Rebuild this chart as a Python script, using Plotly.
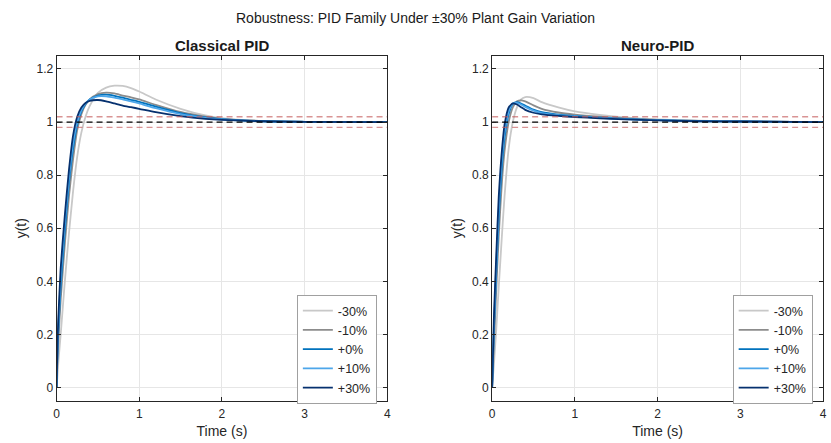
import plotly.graph_objects as go

# ---------------- data ----------------
labels = ["-30%", "-10%", "+0%", "+10%", "+30%"]
colors = ["#c8c8c8", "#8c8c8c", "#0072bd", "#4da6ea", "#06316f"]

t_classic = [0, 0.01, 0.02, 0.05, 0.1, 0.15, 0.2, 0.25, 0.3, 0.35, 0.4, 0.5, 0.6, 0.7, 0.8, 0.9,
             1.0, 1.2, 1.5, 1.8, 2.0, 2.5, 3.0, 4.0]
y_classic_m30 = [0, 0.04, 0.09, 0.2, 0.4, 0.58, 0.74, 0.87, 0.96, 1.02, 1.06, 1.11, 1.13, 1.137, 1.136, 1.128,
                 1.115, 1.085, 1.05, 1.025, 1.015, 1.004, 1.001, 1.0]
y_classic_m10 = [0, 0.1, 0.17, 0.33, 0.54, 0.72, 0.86, 0.97, 1.03, 1.065, 1.085, 1.105, 1.111, 1.108, 1.1, 1.093,
                 1.085, 1.065, 1.038, 1.02, 1.012, 1.004, 1.001, 1.0]
y_classic_0 = [0, 0.12, 0.2, 0.38, 0.59, 0.77, 0.9, 0.99, 1.04, 1.068, 1.085, 1.1, 1.103, 1.099, 1.092, 1.084,
               1.076, 1.058, 1.034, 1.018, 1.011, 1.003, 1.001, 1.0]
y_classic_p10 = [0, 0.13, 0.22, 0.41, 0.62, 0.79, 0.92, 1.0, 1.045, 1.07, 1.085, 1.097, 1.097, 1.092, 1.085, 1.078,
                 1.07, 1.052, 1.03, 1.016, 1.01, 1.003, 1.001, 1.0]
y_classic_p30 = [0, 0.15, 0.25, 0.45, 0.65, 0.82, 0.95, 1.02, 1.055, 1.072, 1.08, 1.083, 1.078, 1.07, 1.062, 1.056,
                 1.05, 1.037, 1.022, 1.012, 1.008, 1.003, 1.001, 1.0]

t_neuro = [0, 0.02, 0.05, 0.08, 0.1, 0.12, 0.15, 0.2, 0.25, 0.3, 0.35, 0.4, 0.5, 0.6, 0.8, 1.0,
           1.3, 1.6, 2.0, 2.5, 3.0, 4.0]
y_neuro_m30 = [0, 0.08, 0.22, 0.38, 0.48, 0.58, 0.72, 0.9, 1.0, 1.055, 1.085, 1.094, 1.09, 1.075, 1.055, 1.04,
               1.027, 1.018, 1.01, 1.005, 1.003, 1.0]
y_neuro_m10 = [0, 0.15, 0.37, 0.57, 0.68, 0.78, 0.89, 1.0, 1.055, 1.078, 1.082, 1.078, 1.063, 1.05, 1.036, 1.028,
               1.02, 1.014, 1.008, 1.004, 1.002, 1.0]
y_neuro_0 = [0, 0.2, 0.43, 0.64, 0.75, 0.84, 0.94, 1.03, 1.068, 1.075, 1.07, 1.062, 1.047, 1.037, 1.028, 1.023,
             1.017, 1.012, 1.007, 1.004, 1.002, 1.0]
y_neuro_p10 = [0, 0.22, 0.46, 0.67, 0.78, 0.87, 0.96, 1.04, 1.07, 1.072, 1.066, 1.057, 1.043, 1.034, 1.026, 1.022,
               1.016, 1.011, 1.007, 1.003, 1.002, 1.0]
y_neuro_p30 = [0, 0.25, 0.5, 0.72, 0.82, 0.9, 0.99, 1.055, 1.07, 1.066, 1.056, 1.046, 1.035, 1.029, 1.023, 1.019,
               1.014, 1.01, 1.006, 1.003, 1.002, 1.0]

ref_level = 1.0
band_hi = 1.02
band_lo = 0.98
t_span = [0, 4]

x_ticks = [0, 1, 2, 3, 4]
y_ticks = [0, 0.2, 0.4, 0.6, 0.8, 1, 1.2]
y_tick_text = ["0", "0.2", "0.4", "0.6", "0.8", "1", "1.2"]

classic = [y_classic_m30, y_classic_m10, y_classic_0, y_classic_p10, y_classic_p30]
neuro = [y_neuro_m30, y_neuro_m10, y_neuro_0, y_neuro_p10, y_neuro_p30]

FONT = "Liberation Sans, Arial, Helvetica, sans-serif"
AX = "#262626"

fig = go.Figure()

for i, (lab, col) in enumerate(zip(labels, colors)):
    fig.add_trace(go.Scatter(x=t_classic, y=classic[i], mode="lines", name=lab,
                             line=dict(color=col, width=1.8, shape="spline", smoothing=0.6),
                             xaxis="x", yaxis="y", legend="legend"))
for i, (lab, col) in enumerate(zip(labels, colors)):
    fig.add_trace(go.Scatter(x=t_neuro, y=neuro[i], mode="lines", name=lab,
                             line=dict(color=col, width=1.8, shape="spline", smoothing=0.6),
                             xaxis="x2", yaxis="y2", legend="legend2"))

for xa, ya in [("x", "y"), ("x2", "y2")]:
    fig.add_trace(go.Scatter(x=t_span, y=[ref_level, ref_level], mode="lines", showlegend=False,
                             line=dict(color="black", width=1.3, dash="6px,4px"), xaxis=xa, yaxis=ya,
                             hoverinfo="skip"))
    for lvl in (band_hi, band_lo):
        fig.add_trace(go.Scatter(x=t_span, y=[lvl, lvl], mode="lines", showlegend=False,
                                 line=dict(color="rgba(196,90,90,0.65)", width=1.3, dash="6px,4px"),
                                 xaxis=xa, yaxis=ya, hoverinfo="skip"))

axis_common = dict(showline=True, linecolor=AX, linewidth=1, mirror="ticks", ticks="inside",
                   ticklen=4, tickcolor=AX, showgrid=True, gridcolor="#e6e6e6", gridwidth=1,
                   zeroline=False, tickfont=dict(family=FONT, size=12, color=AX))

xdom1 = [0.065, 0.4663]
xdom2 = [0.5936, 0.9952]
ydom = [0.0953, 0.8743]

legend_common = dict(y=0.334, xanchor="right", yanchor="top", bgcolor="white",
                     bordercolor="#a0a0a0", borderwidth=1, font=dict(family=FONT, size=12.5, color=AX),
                     tracegroupgap=0, itemwidth=30)

fig.update_layout(
    width=831, height=443, margin=dict(l=0, r=0, t=0, b=0),
    paper_bgcolor="white", plot_bgcolor="white",
    font=dict(family=FONT, color=AX),
    xaxis=dict(domain=xdom1, range=t_span, tickvals=x_ticks, anchor="y", ticklabelstandoff=2,
               title=dict(text="Time (s)", font=dict(size=14, color=AX), standoff=6), **axis_common),
    yaxis=dict(domain=ydom, range=[-0.05, 1.25], tickvals=y_ticks, ticktext=y_tick_text, anchor="x",
               title=dict(text="y(t)", font=dict(size=14, color=AX), standoff=6), **axis_common),
    xaxis2=dict(domain=xdom2, range=t_span, tickvals=x_ticks, anchor="y2", ticklabelstandoff=2,
                title=dict(text="Time (s)", font=dict(size=14, color=AX), standoff=6), **axis_common),
    yaxis2=dict(domain=ydom, range=[-0.05, 1.25], tickvals=y_ticks, ticktext=y_tick_text, anchor="x2",
                title=dict(text="y(t)", font=dict(size=14, color=AX), standoff=6), **axis_common),
    legend=dict(x=0.4537, **legend_common),
    legend2=dict(x=0.9826, **legend_common),
    annotations=[
        dict(text="Robustness: PID Family Under ±30% Plant Gain Variation", x=0.5, y=1 - 18 / 443,
             xref="paper", yref="paper", showarrow=False, xanchor="center", yanchor="middle",
             font=dict(family=FONT, size=14, color="#1a1a1a")),
        dict(text="<b>Classical PID</b>", x=(xdom1[0] + xdom1[1]) / 2, y=1 - 45 / 443,
             xref="paper", yref="paper", showarrow=False, xanchor="center", yanchor="middle",
             font=dict(family=FONT, size=15, color="#1a1a1a")),
        dict(text="<b>Neuro-PID</b>", x=(xdom2[0] + xdom2[1]) / 2, y=1 - 45 / 443,
             xref="paper", yref="paper", showarrow=False, xanchor="center", yanchor="middle",
             font=dict(family=FONT, size=15, color="#1a1a1a")),
    ],
)

fig.write_html("out.html")
